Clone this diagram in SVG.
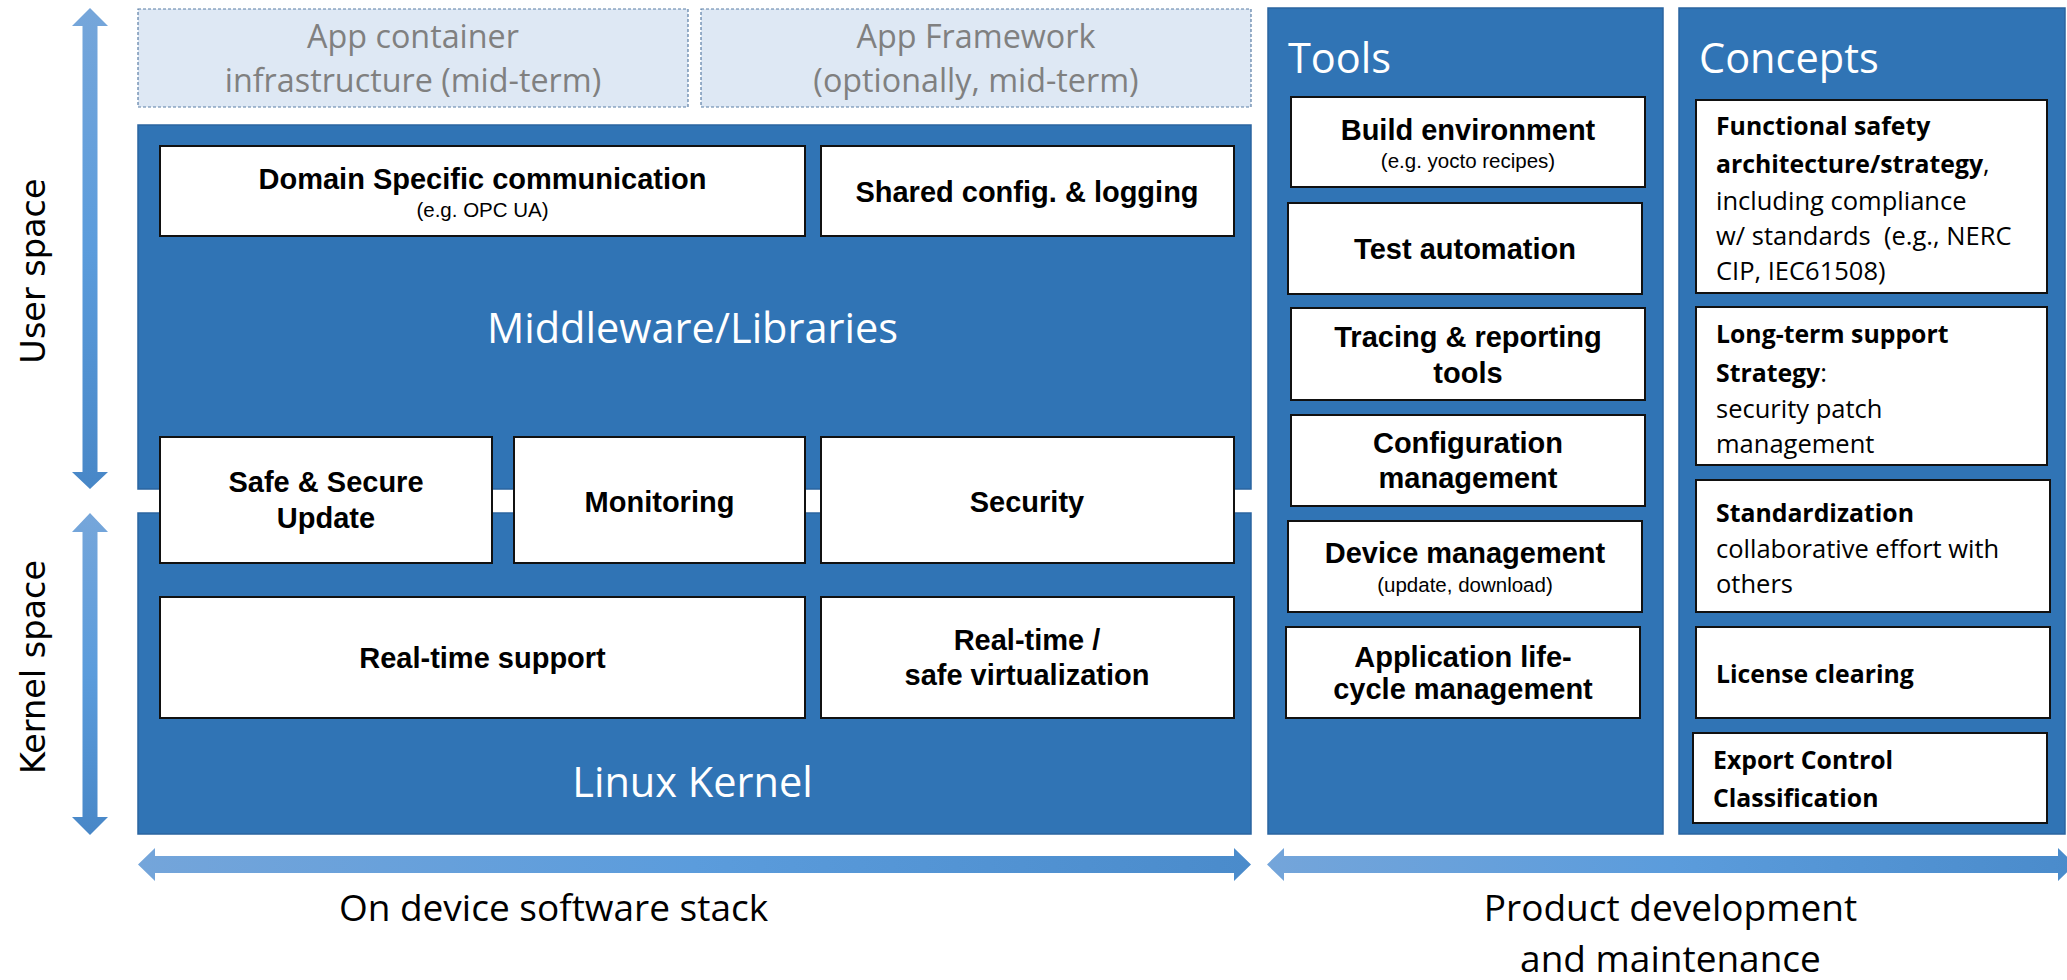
<svg xmlns="http://www.w3.org/2000/svg" width="2067" height="980" viewBox="0 0 2067 980">
<defs>
<linearGradient id="gv" x1="0" y1="0" x2="0" y2="1">
<stop offset="0" stop-color="#76a6da"/><stop offset="0.5" stop-color="#5b9cdc"/><stop offset="1" stop-color="#4887c7"/>
</linearGradient>
<linearGradient id="gh" x1="0" y1="0" x2="1" y2="0">
<stop offset="0" stop-color="#74a5da"/><stop offset="0.5" stop-color="#5b9cdc"/><stop offset="1" stop-color="#4a8bcb"/>
</linearGradient>
<style>
.panel{fill:#3074b5;stroke:#2a64a0;stroke-width:1.5}
.dash{fill:#dee8f4;stroke:#5a7ea6;stroke-width:1.2;stroke-dasharray:3 2}
.box{fill:#fff;stroke:#111;stroke-width:2}
.gray{font-family:"Open Sans",sans-serif;font-size:32.3px;fill:#808080;text-anchor:middle}
.big{font-family:"Open Sans",sans-serif;font-size:41.5px;fill:#fff}
.bold{font-family:"Liberation Sans",Arial,sans-serif;font-weight:bold;font-size:29px;fill:#000;text-anchor:middle}
.sub{font-family:"Liberation Sans",Arial,sans-serif;font-size:20.5px;fill:#000;text-anchor:middle}
.con{font-family:"Open Sans",sans-serif;font-size:25.5px;fill:#000}
.conb{font-weight:bold;font-size:24.8px}
.lbl{font-family:"Open Sans",sans-serif;font-size:37px;fill:#000;text-anchor:middle}
.side{font-family:"DejaVu Sans",Verdana,sans-serif;font-size:33.5px;fill:#000;text-anchor:middle}
.arr{fill:url(#gv)}
.arh{fill:url(#gh)}
</style>
</defs>

<g id="connectors">
<polygon class="arr" points="90,8 108,26 97.5,26 97.5,472 108,472 90,489 72,472 82.5,472 82.5,26 72,26"/>
<polygon class="arr" points="90,513 108,532 97.5,532 97.5,817 108,817 90,835 72,817 82.5,817 82.5,532 72,532"/>
<polygon class="arh" points="138,864.5 155,848 155,856 1234,856 1234,848 1251,864.5 1234,881 1234,873 155,873 155,881"/>
<polygon class="arh" points="1267,864.5 1284,848 1284,856 2058,856 2058,848 2075,864.5 2058,881 2058,873 1284,873 1284,881"/>
</g>

<g id="user-space-label"><text class="side" transform="translate(45,271) rotate(-90)">User space</text></g>
<g id="kernel-space-label"><text class="side" transform="translate(45,667) rotate(-90)">Kernel space</text></g>

<g id="app-container">
<rect class="dash" x="138" y="9" width="550" height="98"/>
<text class="gray" x="413" y="48">App container</text>
<text class="gray" x="413" y="92">infrastructure (mid-term)</text>
</g>
<g id="app-framework">
<rect class="dash" x="701" y="9" width="550" height="98"/>
<text class="gray" x="976" y="48">App Framework</text>
<text class="gray" x="976" y="92">(optionally, mid-term)</text>
</g>

<g id="middleware">
<rect class="panel" x="138" y="125" width="1113" height="364"/>
<text class="big" x="692.5" y="343" text-anchor="middle">Middleware/Libraries</text>
</g>
<g id="linux-kernel">
<rect class="panel" x="138" y="513" width="1113" height="321"/>
<text class="big" x="692.5" y="797" text-anchor="middle">Linux Kernel</text>
</g>

<g id="domain-comm">
<rect class="box" x="160" y="146" width="645" height="90"/>
<text class="bold" x="482.5" y="189">Domain Specific communication</text>
<text class="sub" x="482.5" y="217">(e.g. OPC UA)</text>
</g>
<g id="shared-config">
<rect class="box" x="821" y="146" width="413" height="90"/>
<text class="bold" x="1027" y="202">Shared config. &amp; logging</text>
</g>
<g id="safe-update">
<rect class="box" x="160" y="437" width="332" height="126"/>
<text class="bold" x="326" y="492">Safe &amp; Secure</text>
<text class="bold" x="326" y="528">Update</text>
</g>
<g id="monitoring">
<rect class="box" x="514" y="437" width="291" height="126"/>
<text class="bold" x="659.5" y="512">Monitoring</text>
</g>
<g id="security">
<rect class="box" x="821" y="437" width="413" height="126"/>
<text class="bold" x="1027" y="512">Security</text>
</g>
<g id="realtime">
<rect class="box" x="160" y="597" width="645" height="121"/>
<text class="bold" x="482.5" y="668">Real-time support</text>
</g>
<g id="virtualization">
<rect class="box" x="821" y="597" width="413" height="121"/>
<text class="bold" x="1027" y="650">Real-time /</text>
<text class="bold" x="1027" y="685">safe virtualization</text>
</g>

<g id="tools">
<rect class="panel" x="1268" y="8" width="395" height="826"/>
<text class="big" x="1288" y="73">Tools</text>
</g>
<g id="build-env">
<rect class="box" x="1291" y="97" width="354" height="90"/>
<text class="bold" x="1468" y="140">Build environment</text>
<text class="sub" x="1468" y="168">(e.g. yocto recipes)</text>
</g>
<g id="test-automation">
<rect class="box" x="1288" y="203" width="354" height="91"/>
<text class="bold" x="1465" y="259">Test automation</text>
</g>
<g id="tracing">
<rect class="box" x="1291" y="308" width="354" height="92"/>
<text class="bold" x="1468" y="347">Tracing &amp; reporting</text>
<text class="bold" x="1468" y="383">tools</text>
</g>
<g id="config-mgmt">
<rect class="box" x="1291" y="415" width="354" height="91"/>
<text class="bold" x="1468" y="453">Configuration</text>
<text class="bold" x="1468" y="488">management</text>
</g>
<g id="device-mgmt">
<rect class="box" x="1288" y="521" width="354" height="91"/>
<text class="bold" x="1465" y="563">Device management</text>
<text class="sub" x="1465" y="592">(update, download)</text>
</g>
<g id="app-lifecycle">
<rect class="box" x="1286" y="627" width="354" height="91"/>
<text class="bold" x="1463" y="667">Application life-</text>
<text class="bold" x="1463" y="699">cycle management</text>
</g>

<g id="concepts">
<rect class="panel" x="1679" y="8" width="386" height="826"/>
<text class="big" x="1699" y="73">Concepts</text>
</g>
<g id="functional-safety">
<rect class="box" x="1696" y="100" width="351" height="193"/>
<text class="con" x="1716" y="135"><tspan class="conb">Functional safety</tspan></text>
<text class="con" x="1716" y="173"><tspan class="conb">architecture/strategy</tspan>,</text>
<text class="con" x="1716" y="210">including compliance</text>
<text class="con" x="1716" y="245" xml:space="preserve">w/ standards  (e.g., NERC</text>
<text class="con" x="1716" y="280">CIP, IEC61508)</text>
</g>
<g id="lts">
<rect class="box" x="1696" y="307" width="351" height="158"/>
<text class="con" x="1716" y="343"><tspan class="conb">Long-term support</tspan></text>
<text class="con" x="1716" y="382"><tspan class="conb">Strategy</tspan>:</text>
<text class="con" x="1716" y="418">security patch</text>
<text class="con" x="1716" y="453">management</text>
</g>
<g id="standardization">
<rect class="box" x="1696" y="480" width="354" height="132"/>
<text class="con" x="1716" y="522"><tspan class="conb">Standardization</tspan></text>
<text class="con" x="1716" y="558">collaborative effort with</text>
<text class="con" x="1716" y="593">others</text>
</g>
<g id="license">
<rect class="box" x="1696" y="627" width="354" height="91"/>
<text class="con" x="1716" y="683"><tspan class="conb">License clearing</tspan></text>
</g>
<g id="export-control">
<rect class="box" x="1693" y="733" width="354" height="90"/>
<text class="con" x="1713" y="769"><tspan class="conb">Export Control</tspan></text>
<text class="con" x="1713" y="807"><tspan class="conb">Classification</tspan></text>
</g>

<g id="bottom-labels">
<text class="lbl" x="553.5" y="921">On device software stack</text>
<text class="lbl" x="1670.5" y="921">Product development</text>
<text class="lbl" x="1670.5" y="972">and maintenance</text>
</g>
</svg>
